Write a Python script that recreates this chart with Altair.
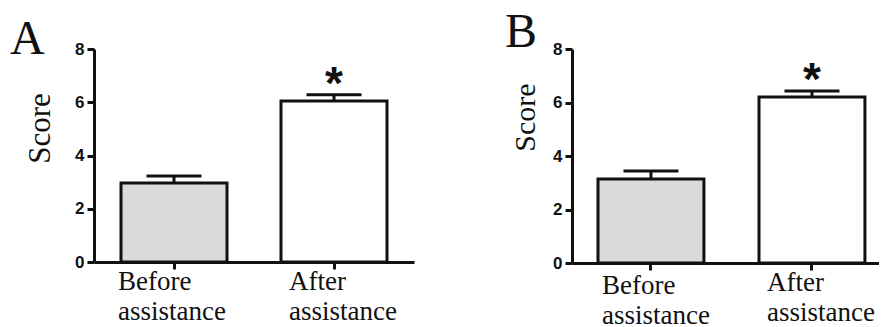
import altair as alt
import pandas as pd

# ---- data ----
categories = ["Before assistance", "After assistance"]
scores_a = [2.97, 6.05]
sem_a = [0.26, 0.23]
scores_b = [3.14, 6.21]
sem_b = [0.30, 0.22]
significance = ["", "*"]
y_ticks = [0, 2, 4, 6, 8]
panel_letters = ["A", "B"]

INK = "#111111"
SERIF = "Liberation Serif"
SANS = "Liberation Sans"


def panel(letter, scores, sems, width, height, pad_inner, pad_outer, align,
          off_before, off_after, padd_before, padd_after,
          letter_x, letter_y, title_x, title_y, title_size):
    df = pd.DataFrame({"group": categories, "score": scores, "sem": sems,
                       "sig": significance})
    base = alt.Chart(df).transform_calculate(upper="datum.score + datum.sem")

    xs = alt.Scale(paddingInner=pad_inner, paddingOuter=pad_outer, align=align)
    x = alt.X(
        "group:N", sort=categories, scale=xs,
        axis=alt.Axis(
            title=None, labelAngle=0,
            labelExpr="split(datum.label, ' ')",
            labelOffset={"condition": {"test": "datum.value == 'After assistance'", "value": off_after},
                         "value": off_before},
            labelPadding={"condition": {"test": "datum.value == 'After assistance'", "value": padd_after},
                          "value": padd_before},
        ),
    )
    y_axis = alt.Axis(
        values=y_ticks, title="Score",
        titleFontSize=title_size, titleX=title_x, titleY=title_y,
    )
    yscale = alt.Scale(domain=[0, 8], nice=False, zero=True)

    bars = base.mark_bar(stroke=INK, strokeWidth=3, opacity=1).encode(
        x=x,
        y=alt.Y("score:Q", scale=yscale, axis=y_axis),
        fill=alt.Fill("group:N", scale=alt.Scale(domain=categories, range=["#d9dadc", "#ffffff"]),
                      legend=None),
    )
    stem = base.mark_rule(strokeWidth=3, color=INK, opacity=1).encode(
        x=alt.X("group:N", sort=categories),
        y="score:Q", y2="upper:Q",
    )
    cap = base.mark_tick(size=55, thickness=3, color=INK, opacity=1).encode(
        x=alt.X("group:N", sort=categories),
        y="upper:Q",
    )
    star = base.mark_text(font=SANS, fontWeight="bold", fontSize=46, dy=4,
                          baseline="alphabetic", color=INK).encode(
        x=alt.X("group:N", sort=categories),
        y="upper:Q",
        text="sig:N",
    )
    lab = alt.Chart(pd.DataFrame({"letter": [letter]})).mark_text(
        font=SERIF, fontSize=48, align="left", baseline="alphabetic", color=INK
    ).encode(x=alt.value(letter_x), y=alt.value(letter_y), text="letter:N")

    return alt.layer(bars, stem, cap, star, lab).properties(width=width, height=height)


pa = panel(panel_letters[0], scores_a, sem_a, 320, 213, 0.3375, 0.16875, 0.5,
           -56, -45, 20, 20, -84, 5, -45, 79, 31)
pb = panel(panel_letters[1], scores_b, sem_b, 307, 214, 0.342, 0.1244, 0.649,
           -49, -45, 23, 20, -67, -2, -38, 68, 30)

chart = alt.hconcat(pa, pb, spacing=158, bounds="flush").resolve_scale(
    x="independent", y="independent", fill="independent"
).configure_view(stroke=None).configure_axis(
    grid=False, domainColor=INK, domainWidth=3, tickColor=INK, tickWidth=3,
    tickSize=7, labelColor=INK, titleColor=INK,
).configure_axisY(
    labelFont=SANS, labelFontWeight="bold", labelFontSize=17, labelPadding=3,
    titleFont=SERIF, titleFontWeight="normal", titleAlign="center",
    titleBaseline="alphabetic", titleAngle=270,
).configure_axisX(
    labelFont=SERIF, labelFontSize=27, labelLineHeight=30, labelAlign="left",
    labelBaseline="alphabetic", labelOverlap=False, labelBound=False, labelLimit=0,
).properties(
    padding={"left": 2, "top": 1, "right": 0, "bottom": 0}
)

chart.save("out.html", embed_options={"renderer": "svg", "actions": False})
